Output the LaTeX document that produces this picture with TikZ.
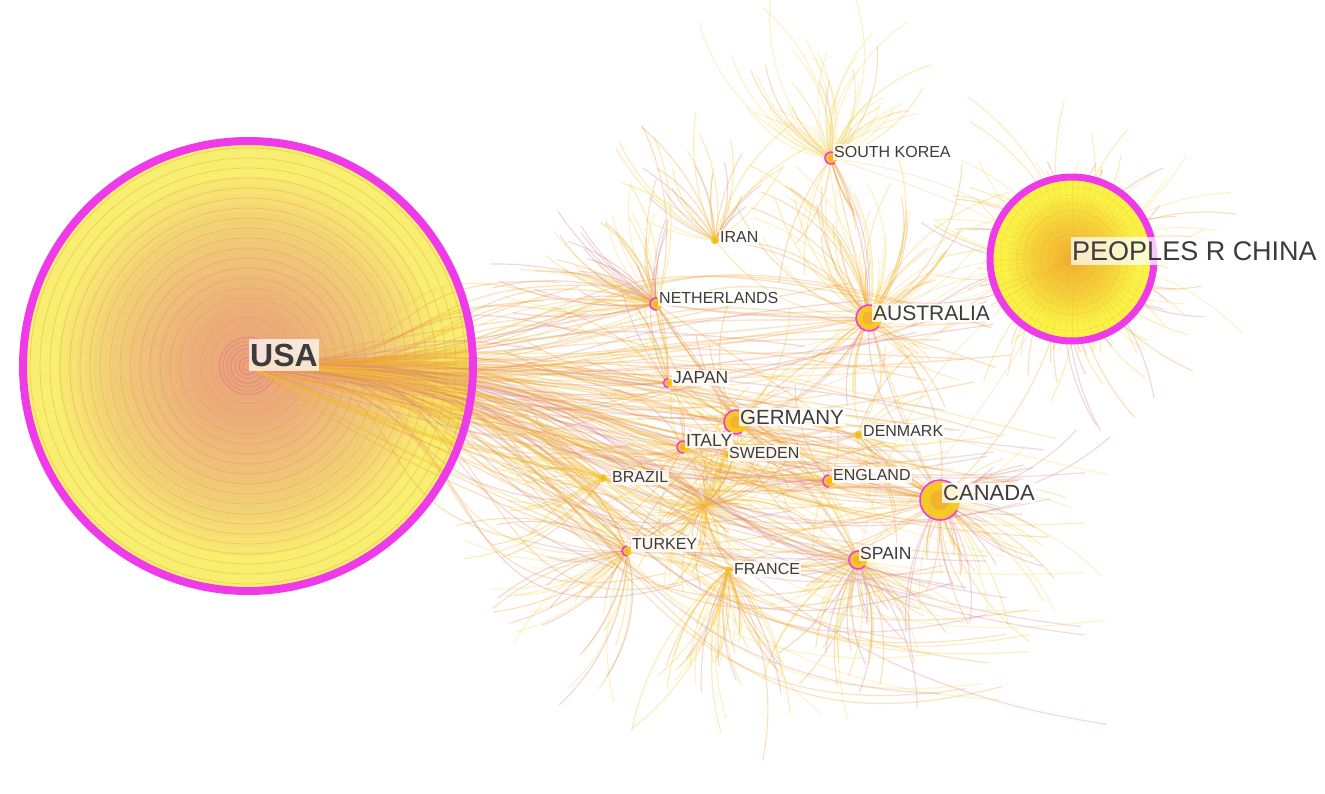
\documentclass[tikz,border=0pt]{standalone}
\usepackage{fontspec}
\setmainfont{Liberation Sans}
\definecolor{mag}{RGB}{238,58,232}
\definecolor{purp}{RGB}{190,60,170}
\definecolor{ylwbase}{RGB}{248,238,112}
\definecolor{cnbase}{RGB}{250,242,70}
\definecolor{peach}{RGB}{236,135,140}
\definecolor{cnorange}{RGB}{245,140,40}
\definecolor{orn}{RGB}{242,160,50}
\definecolor{pnk}{RGB}{212,128,150}
\definecolor{gold}{RGB}{246,200,40}
\definecolor{ylw2}{RGB}{248,218,95}
\definecolor{lbl}{RGB}{60,60,60}
\definecolor{ringc}{RGB}{236,158,70}
\pgfmathdeclarerandomlist{warm}{{gold}{gold}{ylw2}{orn}{pnk}}
\pgfmathdeclarerandomlist{yel}{{gold}{ylw2}{ylw2}{orn}}
\pgfmathdeclarerandomlist{pink}{{pnk}{pnk}{orn}{gold}{ylw2}}
\pgfmathdeclarerandomlist{lnk}{{orn}{orn}{pnk}{gold}}
\pgfmathdeclarerandomlist{usl}{{orn}{orn}{orn}{gold}{pnk}}
\def\hop{0.35}
% hairs: node, count, theta min, theta max, r min, r max, span min, span max, colour list
\newcommand\hairs[9]{%
  \foreach \k in {1,...,#2}{%
    \pgfmathsetmacro\hT{#3+rnd*(#4-#3)}%
    \pgfmathsetmacro\hR{#5+rnd*(#6-#5)}%
    \pgfmathsetmacro\hS{rnd<0.5 ? 1 : -1}%
    \pgfmathsetmacro\hD{\hS*(#7+rnd*(#8-#7))}%
    \pgfmathsetmacro\hA{\hT-\hS*90-\hD/2}%
    \pgfmathrandomitem\hC{#9}%
    \draw[hair,\hC,opacity=\hop] (#1.center) arc[start angle=\hA, delta angle=\hD, radius=\hR];
  }}
\begin{document}
\begin{tikzpicture}[x=1pt,y=-1pt,
  hair/.style={line width=1.1pt,line cap=round},
  link/.style={line width=1.3pt,line cap=round,opacity=0.3},
  country/.style={circle,inner sep=0pt,fill=gold},
  ring/.style={mag,line width=1.6pt},
  lab/.style={text=lbl,fill=white,fill opacity=0.8,text opacity=1,inner xsep=1pt,inner ysep=2pt,anchor=west},
  small/.style={lab,font=\fontsize{16}{18}\selectfont},
  mid/.style={lab,font=\fontsize{17.5}{20}\selectfont},
  big/.style={lab,font=\fontsize{21}{24}\selectfont}]
\useasboundingbox (0,0) rectangle (1325,793);
\fill[white] (0,0) rectangle (1325,793);
\clip (0,0) rectangle (1325,793);
\pgfmathsetseed{4242}

% ---------- nodes (positions) ----------
\node[circle,minimum size=450pt,inner sep=0pt] (usa) at (248,366) {};
\node[circle,minimum size=170pt,inner sep=0pt] (china) at (1072,259) {};
\node[country,minimum size=12pt] (skorea) at (831,158) {};
\node[country,minimum size=8pt] (iran) at (715,240) {};
\node[country,minimum size=12pt] (neth) at (656,304) {};
\node[country,minimum size=26pt] (aus) at (869,318) {};
\node[country,minimum size=9pt] (japan) at (668,383) {};
\node[country,minimum size=24pt] (ger) at (736,422) {};
\node[country,minimum size=8pt] (den) at (858,435) {};
\node[country,minimum size=12pt] (italy) at (683,447) {};
\node[country,minimum size=6pt] (swe) at (727,455) {};
\node[country,minimum size=8pt] (bra) at (603,478) {};
\node[country,minimum size=12pt] (eng) at (829,481) {};
\node[country,minimum size=40pt] (can) at (940,500) {};
\node[country,minimum size=10pt] (tur) at (627,551) {};
\node[country,minimum size=18pt] (spa) at (858,560) {};
\node[country,minimum size=6pt] (fra) at (728,570) {};
\coordinate (hubc) at (705,505);

% ---------- hair bursts ----------
\def\hop{0.33}
\hairs{china}{140}{0}{360}{110}{260}{22}{48}{warm}
\hairs{skorea}{50}{-155}{-25}{80}{200}{20}{60}{yel}
\hairs{skorea}{12}{60}{120}{120}{250}{20}{40}{yel}
\hairs{iran}{30}{-165}{-40}{100}{240}{20}{45}{warm}
\hairs{neth}{30}{-175}{-80}{100}{250}{20}{45}{pink}
\hairs{neth}{25}{-200}{-130}{200}{340}{18}{35}{pink}
\hairs{aus}{55}{-145}{-25}{90}{220}{20}{60}{yel}
\hairs{aus}{20}{20}{160}{80}{200}{20}{50}{warm}
\hairs{japan}{20}{-175}{-95}{150}{300}{18}{40}{pink}
\hairs{ger}{25}{0}{360}{80}{200}{20}{50}{warm}
\hairs{italy}{15}{90}{270}{80}{200}{20}{50}{warm}
\hairs{bra}{30}{140}{230}{90}{220}{20}{50}{yel}
\hairs{tur}{50}{95}{230}{100}{260}{20}{50}{pink}
\hairs{fra}{40}{55}{125}{120}{280}{20}{45}{warm}
\hairs{spa}{50}{25}{155}{100}{240}{20}{45}{warm}
\hairs{can}{60}{-40}{110}{100}{260}{20}{45}{pink}
\hairs{eng}{15}{0}{360}{80}{200}{20}{40}{warm}
\hairs{den}{15}{-90}{90}{80}{200}{20}{40}{warm}
\def\hop{0.4}
\hairs{hubc}{110}{0}{360}{40}{130}{20}{60}{yel}

% ---------- links among countries ----------
\foreach \a/\b in {ger/can,ger/spa,italy/can,japan/eng,neth/aus,ger/aus,tur/spa,bra/can,
    italy/spa,japan/can,neth/ger,iran/aus,skorea/aus,aus/can,eng/can,den/can,fra/spa,
    tur/ger,neth/can,japan/spa,italy/eng,bra/spa,tur/can,swe/can,ger/den,fra/can}{
  \foreach \j in {1,2,3}{
    \pgfmathsetmacro\bb{-30+rnd*60}
    \pgfmathrandomitem\lc{lnk}
    \draw[link,\lc] (\a.center) to[bend left=\bb] (\b.center);
  }}
\foreach \b in {aus,can,skorea,ger,spa}{
  \foreach \j in {1,2}{
    \pgfmathsetmacro\bb{-25+rnd*50}
    \draw[link,orn,opacity=0.2,line width=0.9pt] (china.center) to[bend left=\bb] (\b.center);
  }}

% ---------- China node ----------
\fill[cnbase] (china.center) circle[radius=82];
\foreach \r in {62,56,...,2}{
  \fill[cnorange,opacity=0.075] (china.center) circle[radius=\r];
}
\foreach \r in {80,72,...,8}{
  \draw[orn,opacity=0.22,line width=0.5pt] (china.center) circle[radius=\r];
}
\foreach \a in {0,5,...,355}{
  \draw[orn,opacity=0.2,line width=0.5pt] (china.center) -- ++(\a:80);
}
\draw[mag,line width=7pt] (china.center) circle[radius=82];

% ---------- USA node ----------
\fill[ylwbase] (usa.center) circle[radius=225];
\foreach \r in {218,208,...,8}{
  \draw[ringc,opacity=0.45,line width=0.7pt] (usa.center) circle[radius=\r];
}
\foreach \r in {190,181,...,2}{
  \fill[peach,opacity=0.05] (usa.center) circle[radius=\r];
}
\foreach \r in {5,9,...,29}{
  \draw[purp,opacity=0.25,line width=0.8pt] (usa.center) circle[radius=\r];
}
% USA links
\foreach \i in {1,...,110}{
  \pgfmathsetmacro\tx{520+rnd*500}
  \pgfmathsetmacro\ty{280+rnd*310}
  \pgfmathsetmacro\oa{-5+rnd*10}
  \pgfmathsetmacro\ia{160+rnd*40}
  \pgfmathrandomitem\lc{usl}
  \coordinate (t) at (\tx,\ty);
  \draw[link,\lc] (usa.center) to[out=\oa,in=\ia,looseness=1.5] (t);
}
\foreach \i in {1,...,45}{
  \pgfmathsetmacro\tx{880+rnd*230}
  \pgfmathsetmacro\ty{430+rnd*310}
  \pgfmathsetmacro\oa{-4+rnd*8}
  \pgfmathsetmacro\ia{165+rnd*30}
  \pgfmathrandomitem\lc{pink}
  \coordinate (t) at (\tx,\ty);
  \draw[link,\lc,opacity=0.28] (usa.center) to[out=\oa,in=\ia,looseness=1.3] (t);
}
\foreach \b in {can,spa,ger,aus,eng,italy,japan,neth,tur,fra,den,bra}{
  \foreach \j in {1,2,3}{
    \pgfmathsetmacro\bb{-8+rnd*16}
    \pgfmathrandomitem\lc{usl}
    \draw[link,\lc] (usa.center) to[bend left=\bb] (\b.center);
  }}
\foreach \bb in {-14,-18,-24}{
  \draw[link,orn,opacity=0.18,line width=0.8pt] (usa.center) to[bend left=\bb] (china.center);
}
\draw[mag,line width=8pt] (usa.center) circle[radius=225];

% ---------- small country markers ----------
\foreach \n/\r in {skorea/6,iran/4,neth/6,aus/13,japan/4.5,ger/12,den/4,italy/6,swe/3,bra/4,eng/6,can/20,tur/5,spa/9,fra/3}{
  \fill[gold] (\n.center) circle[radius=\r];
  \fill[orn,opacity=0.5] (\n.center) circle[radius=\r/2];
}
\foreach \n/\r/\s/\e in {skorea/6/50/300,neth/6/80/280,aus/13/40/300,japan/4.5/90/270,
    ger/12/60/290,italy/6/80/300,eng/6/90/270,can/20/30/320,tur/5/90/270,spa/9/40/300}{
  \draw[ring] (\n.center) ++(\s:\r) arc[start angle=\s, end angle=\e, radius=\r];
}

% ---------- labels ----------
\node[lab,font=\fontsize{32}{36}\selectfont\bfseries,inner ysep=5pt,fill opacity=0.7] (usalab) at (249,355) {USA};
\node[lab,font=\fontsize{27}{30}\selectfont,inner ysep=4pt,fill opacity=0.72] (chinalab) at (1071,251) {PEOPLES R CHINA};
\node[small] (skorealab) at (833,152) {SOUTH KOREA};
\node[small] (iranlab) at (719,237) {IRAN};
\node[small] (nethlab) at (658,298) {NETHERLANDS};
\node[big] (auslab) at (872,313) {AUSTRALIA};
\node[mid] (japanlab) at (672,378) {JAPAN};
\node[big,font=\fontsize{20.5}{23}\selectfont] (gerlab) at (739,417) {GERMANY};
\node[small] (denlab) at (862,431) {DENMARK};
\node[mid] (italylab) at (685,440) {ITALY};
\node[small] (swelab) at (728,453) {SWEDEN};
\node[small] (bralab) at (611,477) {BRAZIL};
\node[small] (englab) at (832,475) {ENGLAND};
\node[big,font=\fontsize{22}{25}\selectfont] (canlab) at (942,493) {CANADA};
\node[small] (turlab) at (631,544) {TURKEY};
\node[mid] (spalab) at (859,553) {SPAIN};
\node[small] (fralab) at (733,569) {FRANCE};
\end{tikzpicture}
\end{document}
